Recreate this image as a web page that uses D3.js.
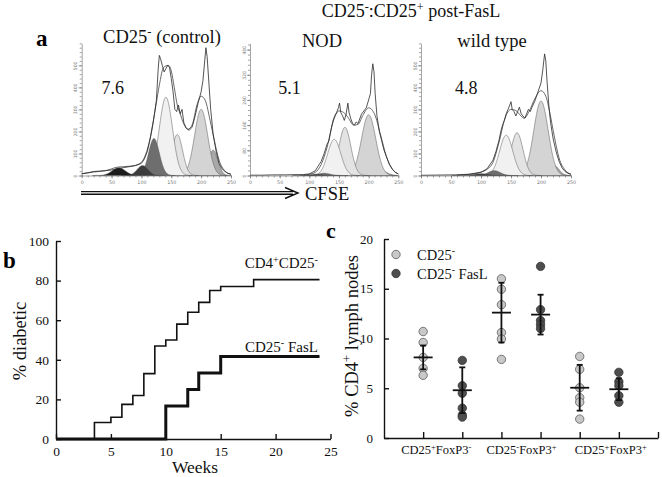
<!DOCTYPE html>
<html><head><meta charset="utf-8">
<script src="https://cdn.jsdelivr.net/npm/d3@7"></script>
<style>body{margin:0;background:#fff}svg{display:block}</style>
</head><body>
<script>
// ================= DATA =================
// Panel a : CFSE histograms (fitted generation peaks: channel, height, width; raw data; model envelope)
const histXTicks = [0, 50, 100, 150, 200, 250];
const ctrlYTicks = [0, 100, 200, 300, 400, 500];
const nodYTicks  = [0, 80, 160, 240, 320, 400];
const wtYTicks   = [0, 100, 200, 300, 400, 500];
const histIndex  = ["7.6", "5.1", "4.8"];

const ctrlPeakCh  = [220, 200, 160, 141, 121, 102, 62];
const ctrlPeakH   = [115, 300, 186, 355, 168, 45, 35];
const ctrlPeakSd  = [8, 11, 9, 11, 9, 9, 11];
const ctrlPeakGen = [0, 1, 2, 3, 4, 5, 6];
const ctrlRawCh    = [0,10,20,30,40,50,60,70,80,90,100,105,110,115,120,125,128,130,132,135,138,141,144,147,150,153,156,159,162,165,168,171,175,180,185,190,195,200,203,206,208,210,213,216,220,225,230,235,240,245,250];
const ctrlRawCount = [8,12,18,20,22,25,30,36,40,45,55,75,110,170,245,340,480,545,530,500,470,485,500,490,440,380,300,290,320,280,300,240,215,205,220,270,330,380,430,520,580,540,420,300,190,110,55,30,18,10,6];
const ctrlEnvCh    = [0,20,40,60,70,80,90,100,110,115,120,125,130,137,145,150,155,160,165,170,178,185,193,200,207,215,222,230,240,250];
const ctrlEnvCount = [8,16,22,38,40,42,46,60,120,175,250,330,410,490,500,475,400,320,280,240,210,230,320,360,340,250,160,70,20,5];

const nodPeakCh  = [222, 200, 160, 142, 125, 112];
const nodPeakH   = [15, 193, 153, 115, 7, 4];
const nodPeakSd  = [9, 12, 10, 11, 10, 10];
const nodPeakGen = [0, 1, 2, 3, 4, 5];
const nodRawCh    = [0,20,40,60,80,90,100,110,115,120,125,130,133,136,140,143,146,149,151,153,156,159,162,165,167,170,173,176,179,182,185,188,192,196,200,203,205,207,209,211,214,218,222,226,230,235,240,245,250];
const nodRawCount = [1,1,2,2,3,3,5,15,30,45,70,100,110,140,175,190,200,215,230,200,190,175,195,230,200,180,165,160,170,165,180,195,205,215,240,260,320,355,330,260,190,140,110,80,60,35,20,10,5];
const nodEnvCh    = [90,100,110,120,130,140,150,158,165,175,182,190,200,210,220,230,240,250];
const nodEnvCount = [2,4,10,35,90,170,205,200,185,160,162,190,215,195,130,60,20,5];

const wtPeakCh  = [222, 200, 160, 142, 122, 100];
const wtPeakH   = [45, 338, 194, 183, 22, 8];
const wtPeakSd  = [8, 12, 10, 11, 10, 12];
const wtPeakGen = [0, 1, 2, 3, 4, 5];
const wtRawCh    = [0,30,60,80,100,110,120,125,130,133,136,139,142,145,148,150,152,155,158,161,164,167,170,173,176,179,182,185,190,195,200,203,206,208,210,213,216,220,225,230,235,240,245,250];
const wtRawCount = [1,2,3,6,15,30,70,110,160,200,230,250,280,300,320,335,300,290,270,290,310,280,270,260,280,300,290,310,340,380,420,480,552,520,430,320,240,170,110,65,35,18,10,5];
const wtEnvCh    = [60,80,90,100,110,120,130,140,150,158,165,172,180,190,200,208,215,222,230,240,250];
const wtEnvCount = [2,5,8,15,28,60,150,260,300,295,275,260,290,350,385,360,280,180,80,25,6];

// Panel b : % diabetic vs weeks
const bXTicks = [0, 5, 10, 15, 20, 25];
const bYTicks = [0, 20, 40, 60, 80, 100];
const weeksCtrl = [0, 3.5, 5, 6, 7, 8, 9, 10, 11, 12, 13, 14, 15, 18, 24];
const diabCtrl  = [0, 8.3, 11, 17.5, 22, 33, 47, 50, 58, 64, 69, 75, 77, 80.5, 80.5];
const weeksFasL = [0, 10, 12, 13, 15, 24];
const diabFasL  = [0, 16.7, 25, 33.3, 41.7, 41.7];

// Panel c : % CD4+ lymph nodes
const cYTicks = [0, 5, 10, 15, 20];
const groupSeries = [0, 1, 0, 1, 0, 1];          // 0 = CD25-, 1 = CD25- FasL
const groupPoints = [
  [10.7, 9.6, 8.1, 7.0, 6.3],
  [7.8, 5.25, 4.5, 3.0, 2.3, 2.1],
  [16.0, 14.95, 13.4, 10.6, 9.95, 7.9],
  [17.25, 12.9, 11.8, 11.4, 11.0],
  [8.2, 6.9, 5.05, 4.05, 3.6, 1.9],
  [6.6, 5.65, 5.25, 4.25, 3.6]
];
const groupMean = [8.1, 4.8, 12.6, 12.4, 5.05, 4.9];
const groupSD   = [1.2, 2.3, 3.0, 2.0, 2.3, 1.1];

// text with superscripts: [text, isSuperscript]
const titleCtrl = [["CD25", 0], ["-", 1], [" (control)", 0]];
const titleTop  = [["CD25", 0], ["-", 1], [":CD25", 0], ["+", 1], [" post-FasL", 0]];
const bLabelCtrl = [["CD4", 0], ["+", 1], ["CD25", 0], ["-", 1]];
const bLabelFasL = [["CD25", 0], ["-", 1], [" FasL", 0]];
const cLegend = [[["CD25", 0], ["-", 1]], [["CD25", 0], ["-", 1], [" FasL", 0]]];
const cCategories = [
  [["CD25", 0], ["+", 1], ["FoxP3", 0], ["-", 1]],
  [["CD25", 0], ["-", 1], ["FoxP3", 0], ["+", 1]],
  [["CD25", 0], ["+", 1], ["FoxP3", 0], ["+", 1]]
];
const cYLabel = [["% CD4", 0], ["+", 1], [" lymph nodes", 0]];

// ================= DRAWING =================
const serif = '"Liberation Serif","Times New Roman",Times,serif';
const sans = '"DejaVu Sans",Arial,sans-serif';
const svg = d3.select("body").append("svg").attr("width", 662).attr("height", 477);

function rich(g, parts, fs, attrs) {
  const t = g.append("text").attr("font-size", fs).attr("font-family", serif).attr("fill", "#111");
  for (const k in attrs) t.attr(k, attrs[k]);
  let shifted = 0;
  parts.forEach(([s, sup]) => {
    const ts = t.append("tspan").text(s);
    const want = sup ? -fs * 0.36 : 0;
    if (want !== shifted) { ts.attr("dy", want - shifted); shifted = want; }
    if (sup) ts.attr("font-size", fs * 0.68);
  });
  return t;
}

// ---------- Panel a ----------
const panelsA = [
  {x0: 81.7, x1: 231, yMax: 600, yT: ctrlYTicks, ch: ctrlPeakCh, h: ctrlPeakH, sd: ctrlPeakSd, gen: ctrlPeakGen,
   rc: ctrlRawCh, rv: ctrlRawCount, ec: ctrlEnvCh, ev: ctrlEnvCount},
  {x0: 250, x1: 398.3, yMax: 420, yT: nodYTicks, ch: nodPeakCh, h: nodPeakH, sd: nodPeakSd, gen: nodPeakGen,
   rc: nodRawCh, rv: nodRawCount, ec: nodEnvCh, ev: nodEnvCount},
  {x0: 421, x1: 571, yMax: 600, yT: wtYTicks, ch: wtPeakCh, h: wtPeakH, sd: wtPeakSd, gen: wtPeakGen,
   rc: wtRawCh, rv: wtRawCount, ec: wtEnvCh, ev: wtEnvCount}
];
const genFill = ["#a8a8a8", "#d4d4d4", "#e3e3e3", "#f1f1f1", "#6e6e6e", "#3c3c3c", "#1c1c1c"];
const base = 175.5, topY = 43.3;

panelsA.forEach((p, pi) => {
  const x = d3.scaleLinear().domain([0, 250]).range([p.x0, p.x1]);
  const y = d3.scaleLinear().domain([0, p.yMax]).range([base, topY]);
  const g = svg.append("g");
  p.ch.forEach((c, i) => {
    const s = p.sd[i], h = p.h[i];
    const xs = d3.range(Math.max(0, c - 4 * s), Math.min(250, c + 4 * s) + 0.001, 0.5);
    const area = d3.area().x(v => x(v)).y0(y(0)).y1(v => y(h * Math.exp(-((v - c) ** 2) / (2 * s * s))));
    g.append("path").attr("d", area(xs)).attr("fill", genFill[p.gen[i]])
      .attr("stroke", "#555").attr("stroke-width", 0.5);
  });
  const env = d3.line().x((d, i) => x(p.ec[i])).y(d => y(d)).curve(d3.curveMonotoneX);
  g.append("path").attr("d", env(p.ev)).attr("fill", "none").attr("stroke", "#444").attr("stroke-width", 0.8);
  const raw = d3.line().x((d, i) => x(p.rc[i])).y(d => y(d));
  g.append("path").attr("d", raw(p.rv)).attr("fill", "none").attr("stroke", "#2a2a2a").attr("stroke-width", 0.8);

  // axes
  const major = p.yT[1] - p.yT[0];
  const minorY = d3.range(0, p.yMax + 0.001, major / 5);
  g.append("g").attr("transform", `translate(${p.x0},0)`)
    .call(d3.axisLeft(y).tickValues(minorY).tickSize(2).tickSizeOuter(0).tickFormat(""));
  const ay2 = g.append("g").attr("transform", `translate(${p.x0},0)`)
    .call(d3.axisLeft(y).tickValues(p.yT).tickSize(3).tickSizeOuter(0));
  ay2.select(".domain").remove();
  ay2.selectAll("text").attr("x", 0).attr("dy", 0).attr("text-anchor", "middle")
    .attr("transform", "translate(-4.5,0) rotate(-90)")
    .attr("font-size", 4.6).attr("font-family", sans).attr("fill", "#777");
  g.append("g").attr("transform", `translate(0,${base})`)
    .call(d3.axisBottom(x).tickValues(d3.range(0, 251, 10)).tickSize(2).tickSizeOuter(0).tickFormat(""));
  const ax2 = g.append("g").attr("transform", `translate(0,${base})`)
    .call(d3.axisBottom(x).tickValues(histXTicks).tickSize(3).tickSizeOuter(0));
  ax2.select(".domain").remove();
  ax2.selectAll("text").attr("y", 5).attr("font-size", 4.8).attr("font-family", sans).attr("fill", "#777");
  g.selectAll(".domain, .tick line").attr("stroke", "#666").attr("stroke-width", 0.6);

  g.append("text").attr("x", [101.5, 278.3, 455][pi]).attr("y", 93.5).attr("font-size", 18)
    .attr("font-family", serif).attr("fill", "#111").text(histIndex[pi]);
});

// panel a labels
svg.append("text").attr("x", 36).attr("y", 46).attr("font-size", 23).attr("font-weight", "bold")
  .attr("font-family", serif).text("a");
rich(svg, titleCtrl, 18.5, {x: 162, y: 42.5, "text-anchor": "middle"});
rich(svg, titleTop, 18, {x: 411, y: 17, "text-anchor": "middle"});
svg.append("text").attr("x", 322).attr("y", 46.5).attr("font-size", 18.5).attr("text-anchor", "middle")
  .attr("font-family", serif).attr("fill", "#111").text("NOD");
svg.append("text").attr("x", 492).attr("y", 46.5).attr("font-size", 18.5).attr("text-anchor", "middle")
  .attr("font-family", serif).attr("fill", "#111").text("wild type");
// CFSE arrow
const arr = svg.append("g").attr("stroke", "#111").attr("fill", "none");
arr.append("line").attr("x1", 81).attr("x2", 293).attr("y1", 191.6).attr("y2", 191.6).attr("stroke-width", 1.4);
arr.append("line").attr("x1", 81).attr("x2", 293).attr("y1", 194.2).attr("y2", 194.2).attr("stroke-width", 1.4);
arr.append("polyline").attr("points", "285,187.5 298,193 285,198.5").attr("stroke-width", 1.4);
svg.append("text").attr("x", 305).attr("y", 200).attr("font-size", 18.5).attr("font-family", serif)
  .attr("fill", "#111").text("CFSE");

// ---------- Panel b ----------
const xb = d3.scaleLinear().domain([0, 25]).range([56, 330.5]);
const yb = d3.scaleLinear().domain([0, 100]).range([439, 241]);
const gb = svg.append("g");
gb.append("g").attr("transform", "translate(56,0)")
  .call(d3.axisLeft(yb).tickValues(bYTicks).tickSize(-5).tickPadding(7).tickSizeOuter(0));
gb.append("g").attr("transform", "translate(0,439)")
  .call(d3.axisBottom(xb).tickValues(bXTicks).tickSize(-5).tickPadding(7).tickSizeOuter(0));
gb.selectAll("text").attr("font-size", 13.5).attr("font-family", serif).attr("fill", "#111");
gb.selectAll(".domain, .tick line").attr("stroke", "#111").attr("stroke-width", 1.4);
const stepLine = (xs) => d3.line().x((d, i) => xb(xs[i])).y(d => yb(d)).curve(d3.curveStepAfter);
gb.append("path").attr("d", stepLine(weeksCtrl)(diabCtrl)).attr("fill", "none")
  .attr("stroke", "#111").attr("stroke-width", 1.6);
gb.append("path").attr("d", stepLine(weeksFasL)(diabFasL)).attr("fill", "none")
  .attr("stroke", "#111").attr("stroke-width", 3);
rich(gb, bLabelCtrl, 15, {x: 318, y: 268, "text-anchor": "end"});
rich(gb, bLabelFasL, 15, {x: 318, y: 351.5, "text-anchor": "end"});
gb.append("text").attr("x", 195).attr("y", 472.5).attr("font-size", 17.5).attr("text-anchor", "middle")
  .attr("font-family", serif).attr("fill", "#111").text("Weeks");
gb.append("text").attr("transform", "translate(26,341) rotate(-90)").attr("font-size", 18.5)
  .attr("text-anchor", "middle").attr("font-family", serif).attr("fill", "#111").text("% diabetic");
svg.append("text").attr("x", 3).attr("y", 268).attr("font-size", 23).attr("font-weight", "bold")
  .attr("font-family", serif).text("b");

// ---------- Panel c ----------
const xc = d3.scaleLinear().domain([0, 7]).range([384, 658]);
const yc = d3.scaleLinear().domain([0, 20]).range([438, 239]);
const gc = svg.append("g");
gc.append("g").attr("transform", "translate(384,0)")
  .call(d3.axisLeft(yc).tickValues(cYTicks).tickSize(-5).tickPadding(11).tickSizeOuter(0));
gc.append("g").attr("transform", "translate(0,438)")
  .call(d3.axisBottom(xc).tickValues(d3.range(1, 8)).tickSize(-6).tickSizeOuter(0).tickFormat(""));
gc.selectAll("text").attr("font-size", 13).attr("font-family", serif).attr("fill", "#111");
gc.selectAll(".domain, .tick line").attr("stroke", "#111").attr("stroke-width", 1.4);
const seriesFill = ["#c8c8c8", "#4e4e4e"];
const seriesStroke = ["#5a5a5a", "#333"];
groupPoints.forEach((pts, i) => {
  const cx = xc(i + 1), sIdx = groupSeries[i];
  gc.selectAll(null).data(pts).enter().append("circle")
    .attr("cx", cx).attr("cy", d => yc(d)).attr("r", 4.2)
    .attr("fill", seriesFill[sIdx]).attr("stroke", seriesStroke[sIdx]).attr("stroke-width", 0.8);
});
groupMean.forEach((m, i) => {
  const cx = xc(i + 1), sd = groupSD[i];
  const e = gc.append("g").attr("stroke", "#111").attr("stroke-width", 1.8);
  e.append("line").attr("x1", cx).attr("x2", cx).attr("y1", yc(m - sd)).attr("y2", yc(m + sd));
  e.append("line").attr("x1", cx - 3).attr("x2", cx + 3).attr("y1", yc(m + sd)).attr("y2", yc(m + sd));
  e.append("line").attr("x1", cx - 3).attr("x2", cx + 3).attr("y1", yc(m - sd)).attr("y2", yc(m - sd));
  e.append("line").attr("x1", cx - 9.5).attr("x2", cx + 9.5).attr("y1", yc(m)).attr("y2", yc(m));
});
const catOffset = [-6.5, 0.5, 11.5];
cCategories.forEach((parts, k) => {
  rich(gc, parts, 12.5, {x: xc(2 * k + 1.5) + catOffset[k], y: 454, "text-anchor": "middle"});
});
cLegend.forEach((parts, k) => {
  gc.append("circle").attr("cx", 396).attr("cy", 254.5 + k * 19).attr("r", 4.2)
    .attr("fill", seriesFill[k]).attr("stroke", seriesStroke[k]).attr("stroke-width", 0.8);
  rich(gc, parts, 14.5, {x: 417, y: 259.5 + k * 19});
});
rich(gc, cYLabel, 18.5, {transform: "translate(358,336) rotate(-90)", "text-anchor": "middle"});
svg.append("text").attr("x", 326).attr("y", 238).attr("font-size", 22).attr("font-weight", "bold")
  .attr("font-family", serif).text("c");
</script>
</body></html>
